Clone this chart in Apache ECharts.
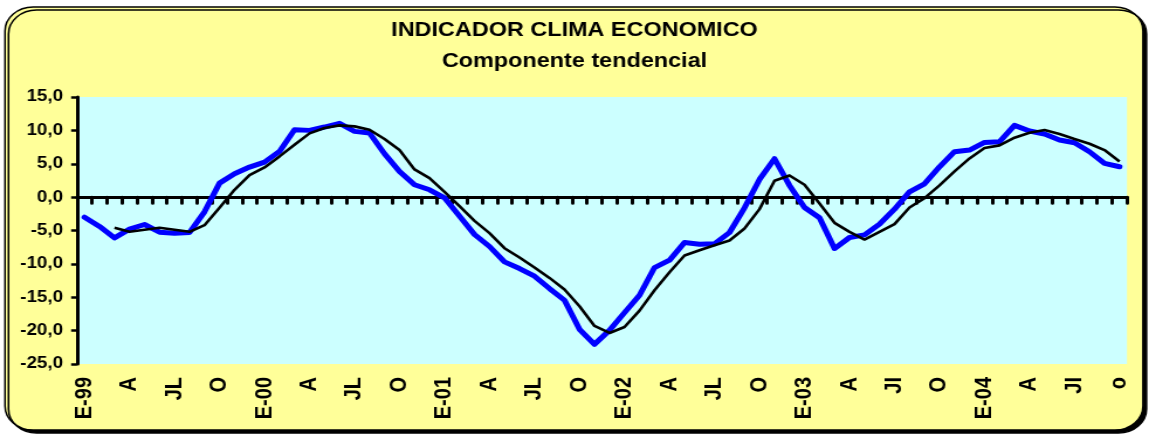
<!DOCTYPE html>
<html>
<head>
<meta charset="utf-8">
<script src="https://cdn.jsdelivr.net/npm/echarts@6/dist/echarts.min.js"></script>
<style>
  html, body { margin: 0; padding: 0; background: #ffffff; overflow: hidden; }
  #wrap { width: 1149px; height: 434px; overflow: hidden; }
  /* the sheet is drawn narrow and widened, as in the spreadsheet export */
  #chart { width: 982px; height: 434px; transform: scaleX(1.17006); transform-origin: 0 0; }
</style>
</head>
<body>
<div id="wrap"><div id="chart"></div></div>
<script>
// Months, January 1999 to October 2004
const months = [
  '1999-01','1999-02','1999-03','1999-04','1999-05','1999-06','1999-07','1999-08','1999-09','1999-10','1999-11','1999-12',
  '2000-01','2000-02','2000-03','2000-04','2000-05','2000-06','2000-07','2000-08','2000-09','2000-10','2000-11','2000-12',
  '2001-01','2001-02','2001-03','2001-04','2001-05','2001-06','2001-07','2001-08','2001-09','2001-10','2001-11','2001-12',
  '2002-01','2002-02','2002-03','2002-04','2002-05','2002-06','2002-07','2002-08','2002-09','2002-10','2002-11','2002-12',
  '2003-01','2003-02','2003-03','2003-04','2003-05','2003-06','2003-07','2003-08','2003-09','2003-10','2003-11','2003-12',
  '2004-01','2004-02','2004-03','2004-04','2004-05','2004-06','2004-07','2004-08','2004-09','2004-10'
];

// Quarterly tick labels along the bottom
const tickLabels = [
  'E-99','A','JL','O','E-00','A','JL','O','E-01','A','JL','O',
  'E-02','A','JL','O','E-03','A','JI','O','E-04','A','JI','o'
];

// Indicador clima económico (blue)
const clima = [
  -3.0, -4.4, -6.1, -4.8, -4.1, -5.25, -5.4, -5.3, -2.2, 2.1, 3.5, 4.5,
  5.25, 6.85, 10.1, 10.0, 10.5, 11.05, 9.85, 9.6, 6.5, 3.85, 1.85, 1.1,
  -0.1, -2.85, -5.6, -7.4, -9.7, -10.7, -11.85, -13.7, -15.45, -19.8, -22.05, -19.95,
  -17.3, -14.7, -10.55, -9.45, -6.8, -7.05, -7.0, -5.3, -1.6, 2.65, 5.75, 1.75,
  -1.55, -3.1, -7.7, -6.05, -5.65, -4.05, -1.8, 0.8, 2.0, 4.55, 6.8, 7.05,
  8.2, 8.3, 10.75, 9.9, 9.45, 8.55, 8.15, 6.8, 5.05, 4.55
];

// Componente tendencial (black)
const tendencia = [
  null, null, -4.6, -5.2, -4.9, -4.6, -4.9, -5.2, -4.2, -1.6, 1.1, 3.3,
  4.45, 6.1, 7.85, 9.55, 10.35, 10.75, 10.6, 10.1, 8.7, 7.05, 4.15, 2.85,
  0.8, -1.35, -3.55, -5.4, -7.65, -9.05, -10.55, -12.1, -13.85, -16.35, -19.3, -20.35,
  -19.45, -17.0, -13.95, -11.25, -8.75, -7.95, -7.2, -6.5, -4.7, -1.8, 2.45, 3.25,
  1.85, -0.95, -3.85, -5.2, -6.35, -5.2, -4.05, -1.55, -0.15, 1.75, 3.85, 5.8,
  7.35, 7.75, 8.9, 9.65, 10.05, 9.45, 8.7, 8.0, 7.05, 5.35
];

const S = 1.17006;            // horizontal widening of the sheet
const FONT = "'Liberation Sans', Arial, sans-serif";

const chart = echarts.init(document.getElementById('chart'), null, { renderer: 'canvas' });

chart.setOption({
  animation: false,
  backgroundColor: 'transparent',
  graphic: [{
    type: 'rect',
    z: -10,
    silent: true,
    shape: { x: 5 / S, y: 7, width: 1138 / S, height: 423, r: 24 },
    style: {
      fill: '#FFFF99',
      stroke: '#000000',
      lineWidth: 1.5,
      shadowColor: '#000000',
      shadowBlur: 0,
      shadowOffsetX: 3,
      shadowOffsetY: 3
    }
  }],
  title: {
    text: 'INDICADOR CLIMA ECONOMICO\nComponente tendencial',
    left: 'center',
    top: 10,
    textStyle: {
      fontFamily: FONT,
      fontWeight: 'bold',
      fontSize: 20,
      lineHeight: 31,
      color: '#000000'
    }
  },
  grid: {
    left: 77 / S,
    right: 22 / S,
    top: 97,
    bottom: 70,
    show: true,
    backgroundColor: '#CCFFFF',
    borderWidth: 0
  },
  xAxis: [
    {
      type: 'category',
      data: months,
      position: 'bottom',
      boundaryGap: true,
      axisLine: { show: false, onZero: false },
      axisTick: { show: false },
      splitLine: { show: false },
      axisLabel: {
        interval: 2,
        rotate: 90,
        margin: 13,
        fontFamily: FONT,
        fontWeight: 'bold',
        fontSize: 20,
        color: '#000000',
        formatter: function (value, index) {
          return index % 3 === 0 ? tickLabels[index / 3] : '';
        }
      }
    },
    {
      type: 'category',
      data: months,
      position: 'top',
      boundaryGap: true,
      axisLine: { show: true, onZero: true, lineStyle: { color: '#000000', width: 3 } },
      axisTick: {
        show: true,
        inside: true,
        interval: 0,
        length: 6,
        lineStyle: { color: '#000000', width: 3, cap: 'round' }
      },
      axisLabel: { show: false },
      splitLine: { show: false }
    }
  ],
  yAxis: {
    type: 'value',
    min: -25,
    max: 15,
    interval: 5,
    position: 'left',
    axisLine: { show: true, onZero: false, lineStyle: { color: '#000000', width: 3 } },
    axisTick: { show: true, length: 5, lineStyle: { color: '#000000', width: 2.5 } },
    splitLine: { show: false },
    axisLabel: {
      margin: 12,
      fontFamily: FONT,
      fontWeight: 'bold',
      fontSize: 16,
      color: '#000000',
      formatter: function (v) { return v.toFixed(1).replace('.', ','); }
    }
  },
  series: [
    {
      name: 'Indicador clima económico',
      type: 'line',
      xAxisIndex: 0,
      data: clima,
      symbol: 'none',
      z: 3,
      lineStyle: { color: '#0000FF', width: 5, cap: 'round', join: 'round' }
    },
    {
      name: 'Componente tendencial',
      type: 'line',
      xAxisIndex: 0,
      data: tendencia,
      symbol: 'none',
      z: 4,
      lineStyle: { color: '#000000', width: 2.6, join: 'round' }
    }
  ]
});
</script>
</body>
</html>
